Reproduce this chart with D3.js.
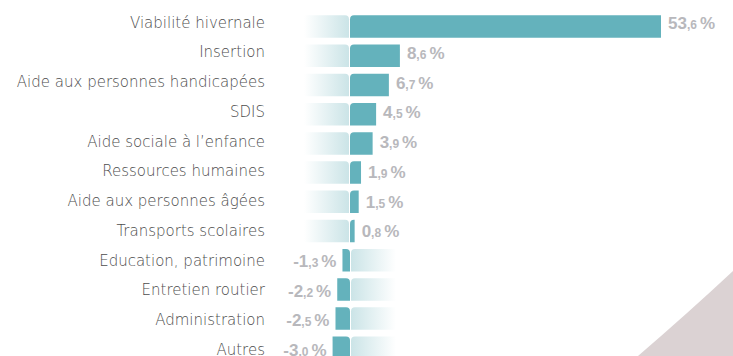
<!DOCTYPE html>
<html lang="fr">
<head>
<meta charset="utf-8">
<script src="https://cdn.jsdelivr.net/npm/d3@7"></script>
<style>
  html, body { margin: 0; padding: 0; background: #ffffff; }
  svg { display: block; }
</style>
</head>
<body>
<svg id="chart" width="733" height="356"></svg>
<script>
// Évolution par poste (en %)
const categories = [
  "Viabilité hivernale",
  "Insertion",
  "Aide aux personnes handicapées",
  "SDIS",
  "Aide sociale à l’enfance",
  "Ressources humaines",
  "Aide aux personnes âgées",
  "Transports scolaires",
  "Education, patrimoine",
  "Entretien routier",
  "Administration",
  "Autres"
];
const values = [53.6, 8.6, 6.7, 4.5, 3.9, 1.9, 1.5, 0.8, -1.3, -2.2, -2.5, -3.0];

const W = 733, H = 356;
const svg = d3.select("#chart");

const barColor = "#64b2bc";
const tintColor = "#cbe4e7";
const valueColor = "#b8b8bc";
const labelColor = "#4d4d4d";

// Scales
const x = d3.scaleLinear().domain([0, 53.6]).range([350, 661]);
const yBar = d3.scaleBand().domain(categories).range([12, 12 + 29.2 * 12]).paddingInner(0.23).paddingOuter(0.115);
const yLabel = d3.scalePoint().domain(categories).range([22.5, 349.5]);

// Decorative corner shape
svg.append("path")
  .attr("d", `M638,${H} Q688,313 ${W},271 L${W},${H} Z`)
  .attr("fill", "#dbd2d3");

// Gradients for the tinted strip beside the zero line
const defs = svg.append("defs");
const gPos = defs.append("linearGradient").attr("id", "tintPos").attr("x1", "0").attr("x2", "1");
gPos.append("stop").attr("offset", "0").attr("stop-color", tintColor).attr("stop-opacity", 0);
gPos.append("stop").attr("offset", "1").attr("stop-color", tintColor).attr("stop-opacity", 1);
const gNeg = defs.append("linearGradient").attr("id", "tintNeg").attr("x1", "0").attr("x2", "1");
gNeg.append("stop").attr("offset", "0").attr("stop-color", tintColor).attr("stop-opacity", 1);
gNeg.append("stop").attr("offset", "1").attr("stop-color", tintColor).attr("stop-opacity", 0);

const rows = categories.map((c, i) => ({ cat: c, v: values[i] }));
const x0 = x(0);
const stripW = 46;
const r = 4;

// Path of a rectangle with only the top corner on the zero side rounded
function roundedTop(xa, xb, y, h, side) {
  if (side === "left") {
    return `M${xa},${y + h} L${xa},${y + r} Q${xa},${y} ${xa + r},${y} L${xb},${y} L${xb},${y + h} Z`;
  }
  return `M${xa},${y + h} L${xa},${y} L${xb - r},${y} Q${xb},${y} ${xb},${y + r} L${xb},${y + h} Z`;
}

const g = svg.append("g");

// Tinted strips on the opposite side of each bar
g.selectAll("path.strip").data(rows).join("path")
  .attr("class", "strip")
  .attr("fill", d => d.v >= 0 ? "url(#tintPos)" : "url(#tintNeg)")
  .attr("d", d => {
    const yy = yBar(d.cat), h = yBar.bandwidth();
    return d.v >= 0
      ? roundedTop(x0 - stripW, x0 - 1, yy, h, "right")
      : roundedTop(x0 + 1, x0 + stripW, yy, h, "left");
  });

// Bars
g.selectAll("path.bar").data(rows).join("path")
  .attr("class", "bar")
  .attr("fill", barColor)
  .attr("d", d => {
    const yy = yBar(d.cat), h = yBar.bandwidth();
    return d.v >= 0
      ? roundedTop(x0, x(d.v), yy, h, "left")
      : roundedTop(x(d.v), x0, yy, h, "right");
  });

// Category labels
g.selectAll("text.cat").data(rows).join("text")
  .attr("class", "cat")
  .attr("x", 265)
  .attr("y", d => yLabel(d.cat))
  .attr("dy", "0.35em")
  .attr("text-anchor", "end")
  .attr("font-family", "'DejaVu Sans', sans-serif")
  .attr("font-weight", 200)
  .attr("font-size", 15)
  .attr("fill", labelColor)
  .text(d => d.cat);

// Value labels: integer part large, decimal part small
const vl = g.selectAll("text.val").data(rows).join("text")
  .attr("class", "val")
  .attr("x", d => d.v >= 0 ? x(d.v) + 7 : x(d.v) - 6)
  .attr("y", d => yLabel(d.cat))
  .attr("dy", "0.42em")
  .attr("text-anchor", d => d.v >= 0 ? "start" : "end")
  .attr("font-family", "'Liberation Sans', Arial, sans-serif")
  .attr("font-weight", "bold")
  .attr("fill", valueColor);

vl.each(function(d) {
  const t = d3.select(this);
  const s = Math.abs(d.v).toFixed(1).split(".");
  const sign = d.v < 0 ? "-" : "";
  t.append("tspan").attr("font-size", 17).text(sign + s[0]);
  t.append("tspan").attr("font-size", 12).text("," + s[1]);
  t.append("tspan").attr("font-size", 17).attr("dx", 3).text("%");
});
</script>
</body>
</html>
